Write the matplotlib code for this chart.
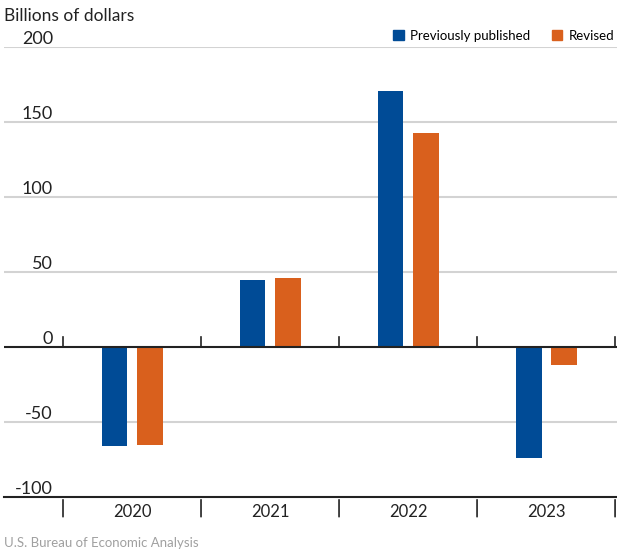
import matplotlib.pyplot as plt
import numpy as np
from matplotlib.patches import Patch

years = ["2020", "2021", "2022", "2023"]
previous = [-66, 45, 171, -74]
revised = [-65, 46, 143, -12]
yticks = [-100, -50, 0, 50, 100, 150, 200]

blue = "#004B96"
orange = "#D9601D"

plt.rcParams["font.family"] = ["Lato", "DejaVu Sans"]

fig = plt.figure(figsize=(6.17, 5.5), dpi=100)
ax = fig.add_axes([4 / 617, 1 - 497 / 550, 613 / 617, 450 / 550])

x = np.arange(len(years))
w = 0.188
ax.bar(x - 0.127, previous, w, color=blue, zorder=3)
ax.bar(x + 0.127, revised, w, color=orange, zorder=3)

ax.set_xlim(-0.9275, 3.514)
ax.set_ylim(-100, 200)

# gridlines and labels
for v in yticks:
    if v == -100:
        ax.axhline(v, color="#222222", lw=1.5, zorder=4, clip_on=False)
    elif v == 0:
        ax.axhline(v, color="#222222", lw=1.5, zorder=4)
    else:
        ax.axhline(v, color="#d3d3d3", lw=1.5, zorder=1)
    ax.annotate(str(v), xy=(49 / 613, v), xycoords=("axes fraction", "data"),
                xytext=(0, 2.5), textcoords="offset points", ha="right", va="baseline",
                fontsize=13, color="#222222")

# category separators
for b in np.arange(-0.5, len(years), 1.0):
    ax.plot([b, b], [0, 7], color="#222222", lw=1.2, zorder=4)
    ax.annotate("", xy=(b, -100), xytext=(b, -115), xycoords="data",
                arrowprops=dict(arrowstyle="-", color="#222222", lw=1.2),
                annotation_clip=False)

for i, yr in enumerate(years):
    ax.text(i, -110, yr, ha="center", va="center", fontsize=12, color="#222222")

ax.axis("off")

fig.text(4 / 617, 1 - 16 / 550, "Billions of dollars", ha="left", va="center",
         fontsize=12.5, color="#222222")
fig.text(4 / 617, 1 - 543 / 550, "U.S. Bureau of Economic Analysis", ha="left", va="center",
         fontsize=9.5, color="#a0a0a0")

handles = [Patch(color=blue, label="Previously published"),
           Patch(color=orange, label="Revised")]
fig.legend(handles=handles, loc="center right", bbox_to_anchor=(1.0, 1 - 36 / 550),
           ncol=2, frameon=False, fontsize=9.5, handlelength=0.8, handleheight=0.8,
           handletextpad=0.5, columnspacing=1.6, borderaxespad=0, borderpad=0.2)

fig.savefig("out.png", dpi=100)
